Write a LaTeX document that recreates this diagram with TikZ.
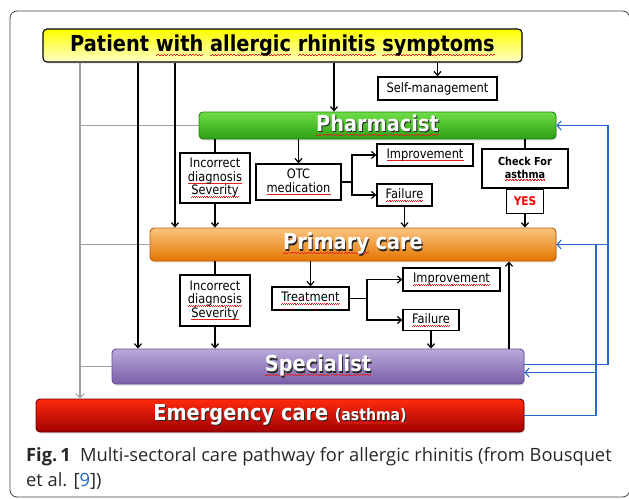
\documentclass[tikz,border=0pt]{standalone}
\usepackage{fontspec}
\setmainfont[FakeStretch=0.88]{DejaVu Sans}
\newfontfamily\capfont{Open Sans}
\usetikzlibrary{arrows.meta,shadows}
\definecolor{ylw}{RGB}{255,255,0}
\definecolor{ylwb}{RGB}{255,255,200}
\definecolor{grt}{RGB}{110,222,70}
\definecolor{grb}{RGB}{46,158,22}
\definecolor{grd}{RGB}{40,130,20}
\definecolor{ort}{RGB}{252,196,128}
\definecolor{orb}{RGB}{228,118,0}
\definecolor{ord}{RGB}{196,90,0}
\definecolor{put}{RGB}{186,170,218}
\definecolor{pub}{RGB}{120,94,166}
\definecolor{pud}{RGB}{104,76,156}
\definecolor{ret}{RGB}{255,42,14}
\definecolor{reb}{RGB}{160,0,0}
\definecolor{red2}{RGB}{100,0,0}
\definecolor{blueln}{RGB}{40,104,204}
\definecolor{grayln}{RGB}{160,160,160}
\definecolor{capblue}{RGB}{30,100,200}
\definecolor{captext}{RGB}{40,40,40}
\definecolor{wavered}{RGB}{230,30,30}
\newsavebox\wvbox
\newcommand\wv[1]{\leavevmode\sbox\wvbox{#1}\rlap{\raisebox{-0.2em}{\textcolor{wavered}{\hbox to \wd\wvbox{\xleaders\hbox{\rule{0.07em}{0.045em}\rule[0.05em]{0.07em}{0.045em}}\hfill}}}}\usebox\wvbox}
\newcommand\shtext[1]{\leavevmode\rlap{\kern1pt\raisebox{-1.2pt}{\color{black!85}\let\wv\relax#1}}#1}
\begin{document}
\begin{tikzpicture}[x=1pt,y=-1pt,
 grad/.style n args={3}{rounded corners=4pt, draw=#1, top color=#2, bottom color=#3, line width=0.9pt, inner sep=0pt,
   drop shadow={opacity=0.22,shadow xshift=1pt,shadow yshift=-1.5pt}},
 big/.style={font=\fontsize{22}{24}\selectfont\bfseries, text=white},
 wbox/.style={draw=black, line width=1.3pt, fill=white, inner sep=0pt, font=\fontsize{13}{13.5}\selectfont, align=center},
 arr/.style={-{Straight Barb[length=4pt,width=7pt,line width=1.2pt]}, line width=1.5pt},
 ln/.style={line width=1.5pt},
 gl/.style={draw=grayln, line width=1.7pt},
 garr/.style={gl, -{Straight Barb[length=4pt,width=8pt,line width=1pt]}},
 bl/.style={draw=blueln, line width=1.2pt},
 barr/.style={bl, -{Straight Barb[length=4pt,width=9pt,line width=1.1pt]}}]
\useasboundingbox (0,0) rectangle (629,498);
\draw[draw=black!75, line width=0.8pt, rounded corners=7pt] (10,11) rectangle (629.6,497);
% boxes
\node[grad={black}{ylw}{ylwb}, line width=1.1pt, minimum width=479pt, minimum height=33pt,
  font=\fontsize{22}{24}\selectfont\bfseries] (patient) at (282.5,45.5)
  {Patient \wv{with} \wv{allergic} \wv{rhinitis} \wv{symptoms}};
\node[wbox, minimum width=119pt, minimum height=23pt] (selfm) at (437.5,88.5) {Self-management};
\node[grad={grd}{grt}{grb}, big, minimum width=357pt, minimum height=27pt] (pharm) at (377.5,125.5)
  {\shtext{\wv{Pharmacist}}};
\node[wbox, minimum width=70pt, minimum height=50pt] (inc1) at (215,178)
  {Incorrect\\ \wv{diagnosis}\\ \wv{Severity}};
\node[wbox, minimum width=85pt, minimum height=36pt] (otc) at (298.5,182) {OTC\\ \wv{medication}};
\node[wbox, minimum width=96pt, minimum height=22pt] (imp1) at (425,155) {\wv{Improvement}};
\node[wbox, minimum width=55pt, minimum height=22pt] (fail1) at (404.5,195) {\wv{Failure}};
\node[wbox, minimum width=86pt, minimum height=39pt, font=\fontsize{11}{13}\selectfont\bfseries] (chk) at (525,168.5)
  {Check For\\ \wv{asthma}};
\node[wbox, anchor=north, minimum width=37pt, minimum height=24pt, font=\fontsize{12}{13}\selectfont\bfseries, text=red] (yes) at (chk.south) {YES};
\node[grad={ord}{ort}{orb}, big, minimum width=406pt, minimum height=33pt] (prim) at (353,244.5)
  {\shtext{\wv{Primary} care}};
\node[wbox, minimum width=70pt, minimum height=51pt] (inc2) at (215,300.5)
  {Incorrect\\ \wv{diagnosis}\\ \wv{Severity}};
\node[wbox, minimum width=77pt, minimum height=23pt] (treat) at (310.5,298.5) {\wv{Treatment}};
\node[wbox, minimum width=97pt, minimum height=23pt] (imp2) at (451.5,279.5) {\wv{Improvement}};
\node[wbox, minimum width=56pt, minimum height=21pt] (fail2) at (431,320) {\wv{Failure}};
\node[grad={pud}{put}{pub}, big, minimum width=412pt, minimum height=35pt] (spec) at (318,366.5)
  {\shtext{\wv{Specialist}}};
\node[grad={red2}{ret}{reb}, big, minimum width=488pt, minimum height=33pt] (emerg) at (280,415.5)
  {\shtext{Emergency care {\fontsize{16}{18}\selectfont\wv{(asthma)}}}};
\node[anchor=north west, align=left, inner sep=0pt, text=captext, font=\capfont\fontsize{18.3}{25}\selectfont] (cap) at (26,447.5)
  {\textbf{Fig.\,1}\enspace Multi-sectoral care pathway for allergic rhinitis (from Bousquet\\et al. [\textcolor{capblue}{9}])};
% helper coordinates
\coordinate (gx) at (80,0);
\coordinate (b1) at (138,0);
\coordinate (b2) at (175,0);
\coordinate (c1) at (334,0);
\coordinate (upx) at (509,0);
\coordinate (ox) at (608,0);
\coordinate (ix) at (596,0);
\coordinate (j1) at (352,182);
\coordinate (j2) at (367,298.5);
% left connectors
\draw[garr] (patient.south -| gx) -- (emerg.north -| gx);
\draw[gl] (pharm.west) -- (pharm.west -| gx);
\draw[gl] (prim.west) -- (prim.west -| gx);
\draw[gl] (spec.west) -- (spec.west -| gx);
\draw[arr] (patient.south -| b1) -- (spec.north -| b1);
\draw[arr] (patient.south -| b2) -- (prim.north -| b2);
\draw[arr] (patient.south -| c1) -- (pharm.north -| c1);
\draw[arr] (patient.south -| selfm.north) -- (selfm.north);
% pharmacist level
\draw[ln] (pharm.south -| inc1.north) -- (inc1.north);
\draw[arr] (inc1.south) -- (prim.north -| inc1.south);
\draw[arr] (pharm.south -| otc.north) -- (otc.north);
\draw[ln] (otc.east) -- (j1);
\draw[arr] (j1) |- (imp1.west);
\draw[arr] (j1) |- (fail1.west);
\draw[arr] (fail1.south) -- (prim.north -| fail1.south);
\draw[ln] (pharm.south -| chk.north) -- (chk.north);
\draw[arr] (yes.south) -- (prim.north -| yes.south);
% primary care level
\draw[ln] (prim.south -| inc2.north) -- (inc2.north);
\draw[arr] (inc2.south) -- (spec.north -| inc2.south);
\draw[arr] (prim.south -| treat.north) -- (treat.north);
\draw[ln] (treat.east) -- (j2);
\draw[arr] (j2) |- (imp2.west);
\draw[arr] (j2) |- (fail2.west);
\draw[arr] (fail2.south) -- (spec.north -| fail2.south);
\draw[arr] (spec.north -| upx) -- (prim.south -| upx);
% blue feedback connectors
\coordinate (so) at ([yshift=2pt]spec.east);
\coordinate (si) at ([yshift=-6pt]spec.east);
\draw[barr] (so) -| (ox |- pharm.east) -- (pharm.east);
\draw[barr] (ox |- prim.east) -- (prim.east);
\draw[bl] (emerg.east) -| (ix |- prim.east);
\draw[barr] (ix |- si) -- (si);
\end{tikzpicture}
\end{document}
